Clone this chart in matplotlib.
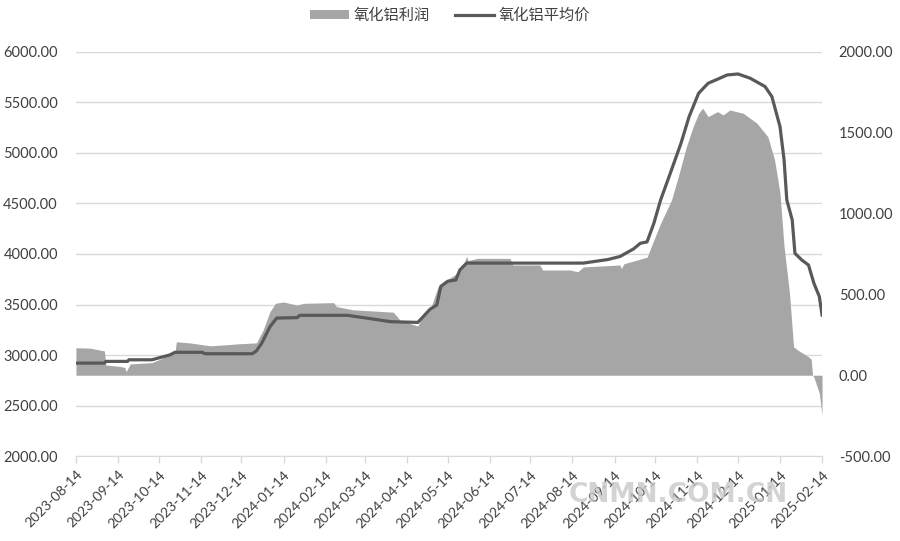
import numpy as np
import pandas as pd
import matplotlib
matplotlib.use("Agg")
import matplotlib.pyplot as plt
import matplotlib.dates as mdates
from matplotlib.patches import Patch
from matplotlib.lines import Line2D
from matplotlib.ticker import FormatStrFormatter, MultipleLocator

plt.rcParams["font.family"] = ["Lato", "Noto Sans CJK SC", "DejaVu Sans"]

# ---- alumina average price (left axis, yuan/t) ----
price_dates = [
    "2023-08-14", "2023-09-04", "2023-09-05", "2023-09-21", "2023-09-22", "2023-10-09",
    "2023-10-15", "2023-10-22", "2023-10-26", "2023-11-15", "2023-11-17", "2023-12-22",
    "2023-12-25", "2023-12-29", "2024-01-04", "2024-01-09", "2024-01-24", "2024-01-26",
    "2024-03-01", "2024-03-13", "2024-04-02", "2024-04-22", "2024-04-26", "2024-05-01",
    "2024-05-06", "2024-05-09", "2024-05-14", "2024-05-20", "2024-05-23", "2024-05-28",
    "2024-08-22", "2024-09-09", "2024-09-18", "2024-09-28", "2024-10-03", "2024-10-08",
    "2024-10-13", "2024-10-18", "2024-10-26", "2024-11-02", "2024-11-08", "2024-11-15",
    "2024-11-22", "2024-11-29", "2024-12-06", "2024-12-14", "2024-12-23", "2025-01-03",
    "2025-01-08", "2025-01-14", "2025-01-17", "2025-01-19", "2025-01-23", "2025-01-25",
    "2025-01-30", "2025-02-04", "2025-02-08", "2025-02-12", "2025-02-14",
]
price_vals = [
    2920, 2920, 2937, 2937, 2953, 2953,
    2975, 3000, 3027, 3027, 3013, 3013,
    3040, 3119, 3280, 3366, 3370, 3393,
    3393, 3370, 3330, 3323, 3380, 3453,
    3495, 3680, 3730, 3743, 3842, 3910,
    3910, 3945, 3975, 4050, 4106, 4120,
    4304, 4535, 4832, 5096, 5360, 5591,
    5690, 5730, 5772, 5782, 5740, 5657,
    5558, 5261, 4931, 4535, 4337, 4007,
    3941, 3891, 3710, 3578, 3396,
]

# ---- alumina profit (right axis, yuan/t) ----
profit_dates = [
    "2023-08-14", "2023-08-24", "2023-09-04", "2023-09-05", "2023-09-15", "2023-09-19",
    "2023-09-20", "2023-09-23", "2023-10-09", "2023-10-18", "2023-10-26", "2023-10-27",
    "2023-11-06", "2023-11-21", "2023-12-05", "2023-12-13", "2023-12-25", "2023-12-30",
    "2024-01-04", "2024-01-08", "2024-01-14", "2024-01-24", "2024-01-29", "2024-02-20",
    "2024-02-22", "2024-03-05", "2024-04-04", "2024-04-09", "2024-04-22", "2024-04-24",
    "2024-05-01", "2024-05-07", "2024-05-14", "2024-05-21", "2024-05-26", "2024-05-28",
    "2024-05-29", "2024-06-05", "2024-06-29", "2024-07-01", "2024-07-21", "2024-07-23",
    "2024-08-12", "2024-08-18", "2024-08-22", "2024-09-18", "2024-09-19", "2024-09-21",
    "2024-10-08", "2024-10-13", "2024-10-18", "2024-10-26", "2024-10-31", "2024-11-06",
    "2024-11-11", "2024-11-15", "2024-11-18", "2024-11-22", "2024-11-29", "2024-12-03",
    "2024-12-08", "2024-12-18", "2024-12-28", "2025-01-05", "2025-01-10", "2025-01-14",
    "2025-01-17", "2025-01-21", "2025-01-24", "2025-01-27", "2025-02-04", "2025-02-06",
    "2025-02-07", "2025-02-08", "2025-02-12", "2025-02-14",
]
profit_vals = [
    170, 168, 150, 63, 55, 48,
    22, 70, 78, 110, 140, 207,
    200, 182, 190, 195, 200, 280,
    393, 445, 453, 434, 445, 449,
    425, 405, 390, 340, 304, 340,
    403, 548, 593, 630, 692, 737,
    709, 723, 723, 682, 682, 651,
    651, 640, 670, 682, 660, 690,
    730, 837, 940, 1084, 1228, 1414,
    1538, 1620, 1652, 1600, 1631, 1610,
    1641, 1620, 1559, 1476, 1332, 1126,
    795, 507, 176, 156, 114, 100,
    0, -12, -112, -246,
]

pd_price = pd.to_datetime(price_dates)
pd_profit = pd.to_datetime(profit_dates)

c_area, c_line, c_grid, c_text = "#a6a6a6", "#595959", "#d9d9d9", "#404040"

fig = plt.figure(figsize=(9, 5.41), dpi=100)
ax = fig.add_axes([0.0844, 0.157, 0.829, 0.747])
ax2 = ax.twinx()

# left axis: price
ax.set_ylim(2000, 6000)
ax.yaxis.set_major_locator(MultipleLocator(500))
ax.yaxis.set_major_formatter(FormatStrFormatter("%.2f"))
ax.grid(axis="y", color=c_grid, lw=1.0)
ax.set_axisbelow(True)

# right axis: profit
ax2.set_ylim(-500, 2000)
ax2.yaxis.set_major_locator(MultipleLocator(500))
ax2.yaxis.set_major_formatter(FormatStrFormatter("%.2f"))
ax2.fill_between(pd_profit, 0, profit_vals, color=c_area, lw=0, zorder=2)

# price line drawn on top of the area, in left-axis units
ax2.plot(pd_price, price_vals, color=c_line, lw=2.3, transform=ax.transData, zorder=3)

ax.set_xlim(pd.Timestamp("2023-08-14"), pd.Timestamp("2025-02-14"))
ax.xaxis.set_major_locator(mdates.MonthLocator(bymonthday=14))
ax.xaxis.set_major_formatter(mdates.DateFormatter("%Y-%m-%d"))
for lab in ax.get_xticklabels():
    lab.set_rotation(45)
    lab.set_ha("right")
    lab.set_rotation_mode("anchor")

for a in (ax, ax2):
    for s in ("top", "left", "right", "bottom"):
        a.spines[s].set_visible(False)
ax.spines["bottom"].set_visible(True)
ax.spines["bottom"].set_color(c_grid)
ax.tick_params(axis="x", colors=c_grid, length=5, width=1.0, labelcolor=c_text,
               labelsize=10, pad=4)
ax.tick_params(axis="y", length=0, labelcolor=c_text, labelsize=10.5, pad=13)
ax2.tick_params(axis="y", length=0, labelcolor=c_text, labelsize=10.5, pad=12)

handles = [Patch(facecolor=c_area, edgecolor="none", label="氧化铝利润"),
           Line2D([], [], color=c_line, lw=2.3, label="氧化铝平均价")]
leg = fig.legend(handles=handles, loc="center", bbox_to_anchor=(0.5, 0.972), ncol=2,
                 frameon=False, handlelength=2.6, handleheight=0.5, columnspacing=1.6,
                 handletextpad=0.3, prop={"family": ["Noto Sans CJK SC"], "size": 11})
for t in leg.get_texts():
    t.set_color(c_text)

# site watermark
fig.text(0.753, 0.085, "CNMN.COM.CN", ha="center", va="center", fontsize=19,
         fontweight="bold", color="#c8c8c8", alpha=0.8, family="DejaVu Sans")

fig.savefig("out.png", dpi=100)
